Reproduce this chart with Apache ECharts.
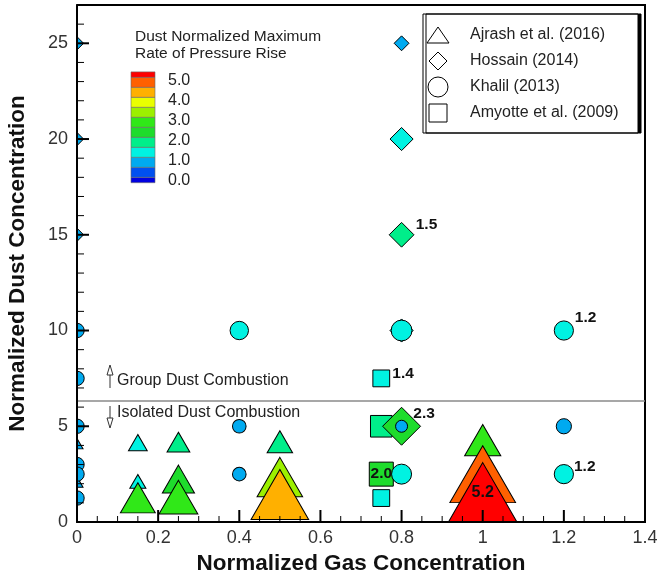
<!DOCTYPE html>
<html>
<head>
<meta charset="utf-8">
<script src="https://cdn.jsdelivr.net/npm/echarts@6/dist/echarts.min.js"></script>
<style>
  html, body { margin: 0; padding: 0; background: #fff; }
  #chart { width: 658px; height: 574px; }
</style>
</head>
<body>
<div id="chart"></div>
<script>
// Normalized gas concentration (x), normalized dust concentration (y) and the
// dust-normalized maximum rate of pressure rise (colour band and symbol size).

const ajrashGas  = [0,   0,   0.15, 0.15, 0.15, 0.25, 0.25, 0.25, 0.5, 0.5, 0.5, 1,   1,   1  ];
const ajrashDust = [4,   2,   4,    2,    1,    4,    2,    1,    4,   2,   1,   4,   2,   1  ];
const ajrashRate = [0.9, 0.9, 1.4,  1.2,  2.6,  1.7,  2.4,  2.9,  1.9, 3.4, 4.3, 2.7, 4.9, 5.2];

const hossainGas  = [0,   0,   0,   0.8, 0.8, 0.8, 0.8, 0.8];
const hossainDust = [25,  20,  15,  25,  20,  15,  10,  5  ];
const hossainRate = [0.8, 0.8, 0.8, 0.9, 1.4, 1.5, 1.4, 2.3];

const khalilGas  = [0,   0,   0,   0,   0,   0,    0.4,  0.4,  0.4,  0.8, 0.8,  0.8,  1.2, 1.2,  1.2];
const khalilDust = [10,  7.5, 5,   3,   2.5, 1.25, 10,   5,    2.5,  10,  5,    2.5,  10,  5,    2.5];
const khalilRate = [0.9, 0.9, 0.9, 0.9, 0.9, 0.9,  1.15, 0.85, 0.85, 1.3, 0.75, 1.25, 1.2, 0.95, 1.2];

const amyotteGas  = [0.75, 0.75, 0.75, 0.75];
const amyotteDust = [7.5,  5,    2.5,  1.25];
const amyotteRate = [1.4,  1.8,  2.0,  1.4 ];

// dust concentration separating group and isolated dust combustion
const regimeBoundary = 6.35;

// axis ranges and ticks
const xMax = 1.4, yMax = 27;
const xMajorTicks = [0, 0.2, 0.4, 0.6, 0.8, 1, 1.2, 1.4];
const yMajorTicks = [0, 5, 10, 15, 20, 25];
const xMinorSteps = 4;   // minor divisions per major x interval
const yMinorStep  = 1;

// colour levels of the rate of pressure rise
const bandEdges  = [0, 0.5, 1, 1.5, 2, 2.5, 3, 3.5, 4, 4.5, 5];
const bandColors = ['#0000e0', '#0050f0', '#00aaf0', '#00f2e2', '#00ee8a', '#1edc2c',
                    '#30e818', '#9cf000', '#eaff00', '#ffb000', '#ff6000', '#ff0000'];
const barTicks   = [0, 1, 2, 3, 4, 5];

const seriesNames = ['Ajrash et al. (2016)', 'Hossain (2014)', 'Khalil (2013)', 'Amyotte et al. (2009)'];

const FONT = "'Liberation Sans', Arial, Helvetica, sans-serif";

const pieces = bandColors.map((c, i) => {
  const p = { color: c };
  if (i > 0) p.gte = bandEdges[i - 1];
  if (i < bandEdges.length) p.lt = bandEdges[i];
  return p;
});

// symbol style per data set (drawing order: squares, triangles, diamonds, circles)
const markers = [
  { name: seriesNames[3], gas: amyotteGas, dust: amyotteDust, rate: amyotteRate,
    symbol: 'rect', size: r => [12 * r, 12 * r], offset: [0, 0],
    labels: { 0: { position: ['112%', '25%'] }, 2: { position: 'inside', align: 'center' } } },
  { name: seriesNames[0], gas: ajrashGas, dust: ajrashDust, rate: ajrashRate,
    symbol: 'triangle', size: r => [13.4 * r, 11.6 * r], offset: [0, '-16.7%'],
    labels: { 13: { position: 'inside', align: 'center', fontSize: 16 } } },
  { name: seriesNames[1], gas: hossainGas, dust: hossainDust, rate: hossainRate,
    symbol: 'diamond', size: r => [16.5 * r, 16.5 * r], offset: [0, 0],
    labels: { 5: { position: ['105%', '10%'] }, 7: { position: ['80%', '18%'] } } },
  { name: seriesNames[2], gas: khalilGas, dust: khalilDust, rate: khalilRate,
    symbol: 'circle', size: r => [16 * r, 16 * r], offset: [0, 0],
    labels: { 12: { position: ['104%', '-15%'] }, 14: { position: ['100%', '12%'] } } }
];

const series = markers.map((m, si) => {
  const s = {
    type: 'scatter',
    name: m.name,
    symbol: m.symbol,
    symbolSize: v => m.size(v[2]),
    symbolOffset: m.offset,
    clip: false,
    animation: false,
    emphasis: { disabled: true },
    itemStyle: { borderColor: '#000', borderWidth: 1, opacity: 1 },
    label: {
      show: false,
      formatter: p => p.value[2].toFixed(1),
      fontFamily: FONT, fontWeight: 'bold', fontSize: 15.5, color: '#111',
      align: 'left', verticalAlign: 'middle'
    },
    data: m.gas.map((g, i) => {
      const item = { value: [g, m.dust[i], m.rate[i]] };
      if (m.labels[i]) item.label = Object.assign({ show: true }, m.labels[i]);
      return item;
    })
  };
  if (si === 0) {
    s.markLine = {
      silent: true, animation: false, symbol: ['none', 'none'],
      label: { show: false },
      lineStyle: { color: '#8a8a8a', width: 1.5, type: 'solid' },
      data: [{ yAxis: regimeBoundary }]
    };
  }
  return s;
});

// inward axis ticks: [axis (0 = x, 1 = y), value, major flag]
const tickRows = [];
xMajorTicks.forEach((v, i) => {
  tickRows.push([0, v, 1]);
  const next = xMajorTicks[i + 1];
  if (next !== undefined) {
    for (let k = 1; k < xMinorSteps; k++) tickRows.push([0, v + (next - v) * k / xMinorSteps, 0]);
  }
});
yMajorTicks.forEach((v, i) => {
  tickRows.push([1, v, 1]);
  const next = i + 1 < yMajorTicks.length ? yMajorTicks[i + 1] : yMax;
  for (let m = v + yMinorStep; m < next; m += yMinorStep) tickRows.push([1, m, 0]);
});

series.push({
  type: 'custom',
  name: 'ticks',
  silent: true,
  animation: false,
  clip: false,
  z: 5,
  encode: { x: -1, y: -1 },
  data: tickRows,
  renderItem: (params, api) => {
    const onX = api.value(0) === 0;
    const v = api.value(1);
    const major = api.value(2) === 1;
    const len = major ? 12 : (onX ? 6 : 7);
    const p = onX ? api.coord([v, 0]) : api.coord([0, v]);
    return {
      type: 'line',
      shape: onX ? { x1: p[0], y1: p[1], x2: p[0], y2: p[1] - len }
                 : { x1: p[0], y1: p[1], x2: p[0] + len, y2: p[1] },
      style: { stroke: '#000', lineWidth: major ? 2 : 1 }
    };
  }
});

// colour bar
const barX = 131, barW = 24, barZeroY = 177.3, pxPerUnit = 20, cap = 0.27;
const barGraphics = [];
bandColors.forEach((c, i) => {
  const lo = i === 0 ? -cap : bandEdges[i - 1];
  const hi = i === bandColors.length - 1 ? bandEdges[bandEdges.length - 1] + cap : bandEdges[i];
  const yTop = barZeroY - hi * pxPerUnit;
  const yBot = barZeroY - lo * pxPerUnit;
  barGraphics.push({
    type: 'rect', z: 30, silent: true,
    shape: { x: barX, y: yTop, width: barW, height: yBot - yTop },
    style: { fill: c, stroke: '#6a6a6a', lineWidth: 0.6 }
  });
});
barTicks.forEach(t => {
  barGraphics.push({
    type: 'text', z: 30, silent: true, x: 168, y: barZeroY - t * pxPerUnit + 3,
    style: { text: t.toFixed(1), font: '16px ' + FONT, fill: '#222', verticalAlign: 'middle' }
  });
});
barGraphics.push({
  type: 'text', z: 30, silent: true, x: 135, y: 28,
  style: { text: 'Dust Normalized Maximum\nRate of Pressure Rise', font: '15.5px ' + FONT,
           fill: '#222', lineHeight: 17 }
});

// legend box with open symbols
const legX = 423, legY = 14, legW = 215, legH = 119;
const legendGraphics = [
  { type: 'rect', z: 30, silent: true, shape: { x: legX, y: legY, width: legW, height: legH },
    style: { fill: '#fff', stroke: '#000', lineWidth: 1,
             shadowColor: '#000', shadowOffsetX: 3, shadowOffsetY: 0, shadowBlur: 0 } },
  { type: 'polygon', z: 31, silent: true,
    shape: { points: [[427, 43], [449, 43], [438, 27]] },
    style: { fill: 'none', stroke: '#000', lineWidth: 1 } },
  { type: 'polygon', z: 31, silent: true,
    shape: { points: [[438, 52], [447, 61], [438, 70], [429, 61]] },
    style: { fill: 'none', stroke: '#000', lineWidth: 1 } },
  { type: 'circle', z: 31, silent: true, shape: { cx: 438, cy: 87, r: 10 },
    style: { fill: 'none', stroke: '#000', lineWidth: 1 } },
  { type: 'rect', z: 31, silent: true, shape: { x: 429, y: 104, width: 18, height: 18 },
    style: { fill: 'none', stroke: '#000', lineWidth: 1 } }
];
[35, 61, 87, 113].forEach((y, i) => {
  legendGraphics.push({
    type: 'text', z: 31, silent: true, x: 470, y: y,
    style: { text: seriesNames[i], font: '16px ' + FONT, fill: '#222', verticalAlign: 'middle' }
  });
});

// regime annotations
const noteGraphics = [
  { type: 'polyline', z: 30, silent: true, shape: { points: [[110, 374], [110, 388]] },
    style: { stroke: '#333', lineWidth: 1 } },
  { type: 'polygon', z: 30, silent: true, shape: { points: [[107, 375], [113, 375], [110, 365]] },
    style: { fill: '#fff', stroke: '#333', lineWidth: 1 } },
  { type: 'text', z: 30, silent: true, x: 117, y: 381,
    style: { text: 'Group Dust Combustion', font: '16px ' + FONT, fill: '#222', verticalAlign: 'middle' } },
  { type: 'polyline', z: 30, silent: true, shape: { points: [[110, 406], [110, 419]] },
    style: { stroke: '#333', lineWidth: 1 } },
  { type: 'polygon', z: 30, silent: true, shape: { points: [[107, 418], [113, 418], [110, 428]] },
    style: { fill: '#fff', stroke: '#333', lineWidth: 1 } },
  { type: 'text', z: 30, silent: true, x: 117, y: 413,
    style: { text: 'Isolated Dust Combustion', font: '16px ' + FONT, fill: '#222', verticalAlign: 'middle' } }
];

// white margins hide the parts of edge symbols that fall outside the frame
const maskGraphics = [
  { type: 'rect', z: 10, silent: true, shape: { x: 0, y: 0, width: 76.5, height: 574 },
    style: { fill: '#fff' } },
  { type: 'rect', z: 10, silent: true, shape: { x: 0, y: 523, width: 658, height: 51 },
    style: { fill: '#fff' } }
];

const option = {
  animation: false,
  backgroundColor: '#fff',
  grid: {
    left: 77, right: 13, top: 5, bottom: 52,
    outerBounds: { left: -100, top: -100, right: -100, bottom: -100 },
    show: true, borderColor: '#000', borderWidth: 2
  },
  visualMap: {
    show: false, type: 'piecewise', dimension: 2,
    seriesIndex: [0, 1, 2, 3], pieces: pieces
  },
  xAxis: {
    type: 'value', min: 0, max: xMax, interval: 0.2, position: 'bottom', z: 20,
    axisLine: { show: true, onZero: false, lineStyle: { color: '#000', width: 2 } },
    axisTick: { show: false },
    axisLabel: { color: '#333', fontSize: 18, fontFamily: FONT, margin: 7 },
    splitLine: { show: false },
    name: 'Normalized Gas Concentration', nameLocation: 'middle', nameGap: 16,
    nameTextStyle: { fontSize: 22.5, fontWeight: 'bold', color: '#111', fontFamily: FONT }
  },
  yAxis: {
    type: 'value', min: 0, max: yMax, interval: 5, position: 'left', z: 20,
    axisLine: { show: true, onZero: false, lineStyle: { color: '#000', width: 2 } },
    axisTick: { show: false },
    axisLabel: { color: '#333', fontSize: 18, fontFamily: FONT, margin: 9,
                 formatter: v => (v % 5 === 0 ? String(v) : '') },
    splitLine: { show: false },
    name: 'Normalized Dust Concentration', nameLocation: 'middle', nameGap: 48,
    nameTextStyle: { fontSize: 22.5, fontWeight: 'bold', color: '#111', fontFamily: FONT }
  },
  graphic: { elements: [].concat(maskGraphics, barGraphics, legendGraphics, noteGraphics) },
  series: series
};

const chart = echarts.init(document.getElementById('chart'), null, { renderer: 'canvas' });
chart.setOption(option);
</script>
</body>
</html>
